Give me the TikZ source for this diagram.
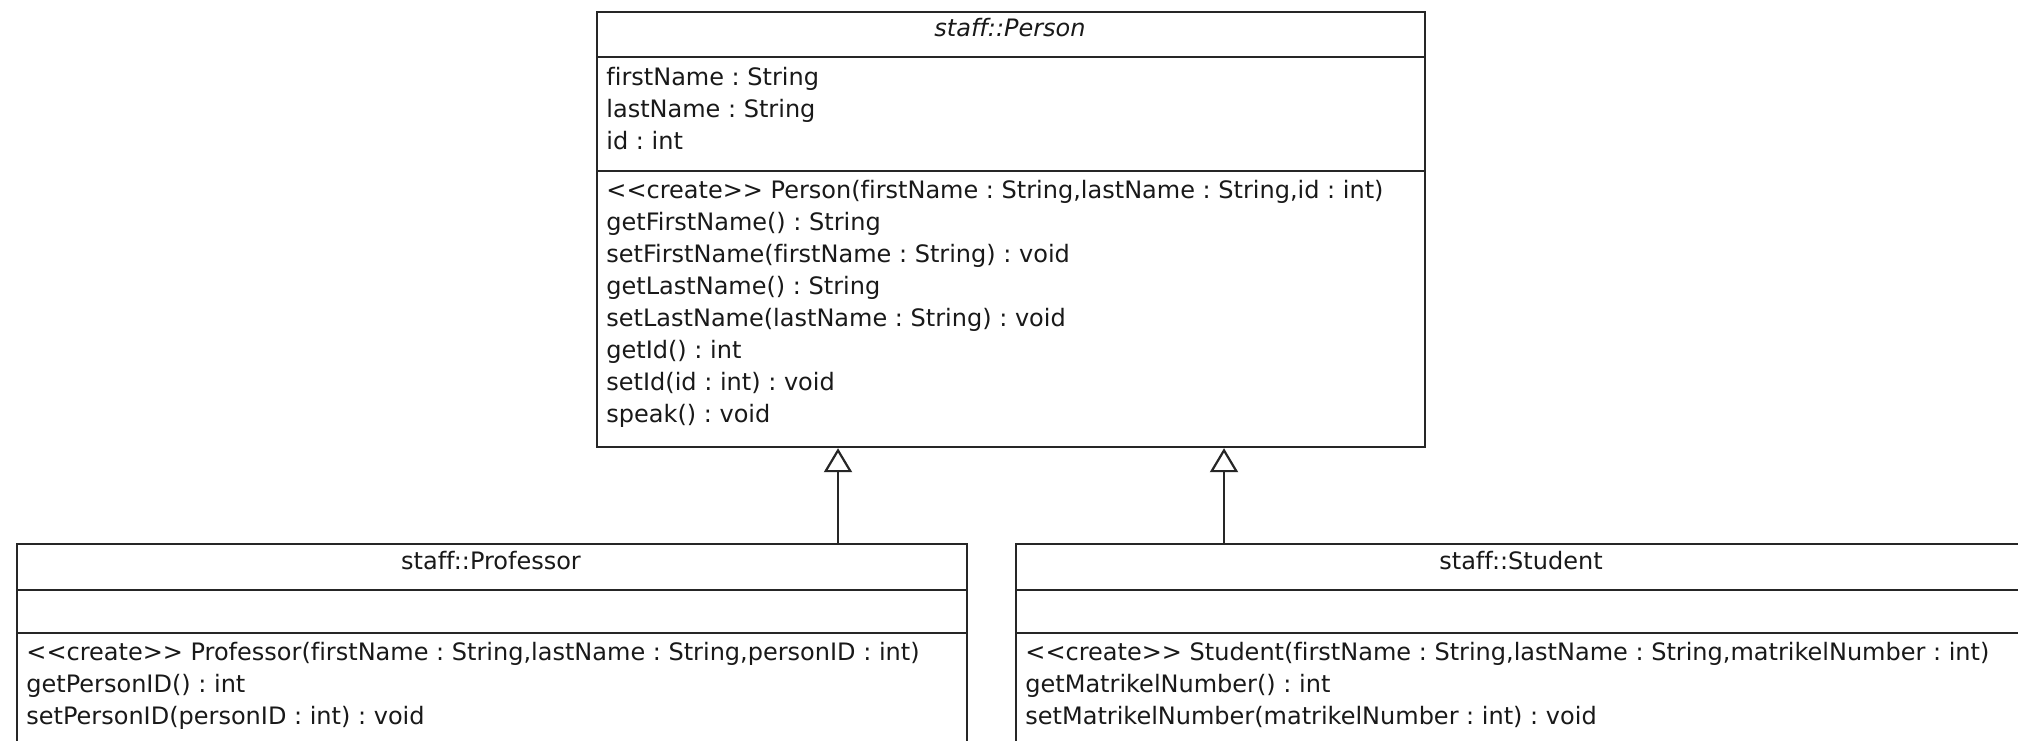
\documentclass[tikz,border=0pt]{standalone}
\usepackage{fontspec}
\setmainfont[Ligatures=NoCommon]{DejaVu Sans}
\frenchspacing
\usetikzlibrary{arrows.meta}
\tikzset{
  box/.style={draw=black!85, line width=1.1pt, rectangle, inner sep=0pt, anchor=north west, fill=white},
  sep/.style={draw=black!85, line width=1.1pt},
  ln/.style={anchor=base west, inner sep=0pt, font=\fontsize{12}{16}\selectfont, text=black!90},
  ttl/.style={anchor=base, inner sep=0pt, font=\fontsize{12}{16}\selectfont, text=black!90},
  gen/.style={draw=black!85, line width=1.1pt, -{Triangle[open, length=12pt, width=14pt, fill=white]}}
}
\begin{document}
\begin{tikzpicture}[x=0.5pt, y=-0.5pt]
\useasboundingbox (0,0) rectangle (2018,740);
\clip (0,0) rectangle (2018,740);
\fill[white] (0,0) rectangle (2018,740);

% Person
\node[box, minimum width=414pt, minimum height=217.5pt] (person) at (596,11) {};
\draw[sep] (596,57) -- (1424,57);
\draw[sep] (596,171) -- (1424,171);
\node[ttl, font=\fontsize{12}{16}\selectfont\itshape] (pt) at (1010,36) {staff::Person};
\node[ln] (pa1) at (606,85) {firstName : String};
\node[ln] (pa2) at (606,117) {lastName : String};
\node[ln] (pa3) at (606,149) {id : int};
\node[ln] (pm1) at (606,198) {<{}<create>{}> Person(firstName : String,lastName : String,id : int)};
\node[ln] (pm2) at (606,230) {getFirstName() : String};
\node[ln] (pm3) at (606,262) {setFirstName(firstName : String) : void};
\node[ln] (pm4) at (606,294) {getLastName() : String};
\node[ln] (pm5) at (606,326) {setLastName(lastName : String) : void};
\node[ln] (pm6) at (606,358) {getId() : int};
\node[ln] (pm7) at (606,390) {setId(id : int) : void};
\node[ln] (pm8) at (606,422) {speak() : void};

% Professor
\node[box, minimum width=475pt, minimum height=150pt] (prof) at (16,543) {};
\draw[sep] (16,590) -- (966,590);
\draw[sep] (16,633) -- (966,633);
\node[ttl] (prt) at (491,569) {staff::Professor};
\node[ln] (prm1) at (26,660) {<{}<create>{}> Professor(firstName : String,lastName : String,personID : int)};
\node[ln] (prm2) at (26,692) {getPersonID() : int};
\node[ln] (prm3) at (26,724) {setPersonID(personID : int) : void};

% Student
\node[box, minimum width=506pt, minimum height=150pt] (stud) at (1015,543) {};
\draw[sep] (1015,590) -- (2027,590);
\draw[sep] (1015,633) -- (2027,633);
\node[ttl] (stt) at (1521,569) {staff::Student};
\node[ln] (stm1) at (1025,660) {<{}<create>{}> Student(firstName : String,lastName : String,matrikelNumber : int)};
\node[ln] (stm2) at (1025,692) {getMatrikelNumber() : int};
\node[ln] (stm3) at (1025,724) {setMatrikelNumber(matrikelNumber : int) : void};

% generalizations
\coordinate (c1) at (838,0);
\coordinate (c2) at (1224,0);
\draw[gen] (prof.north -| c1) -- (person.south -| c1);
\draw[gen] (stud.north -| c2) -- (person.south -| c2);
\end{tikzpicture}
\end{document}
